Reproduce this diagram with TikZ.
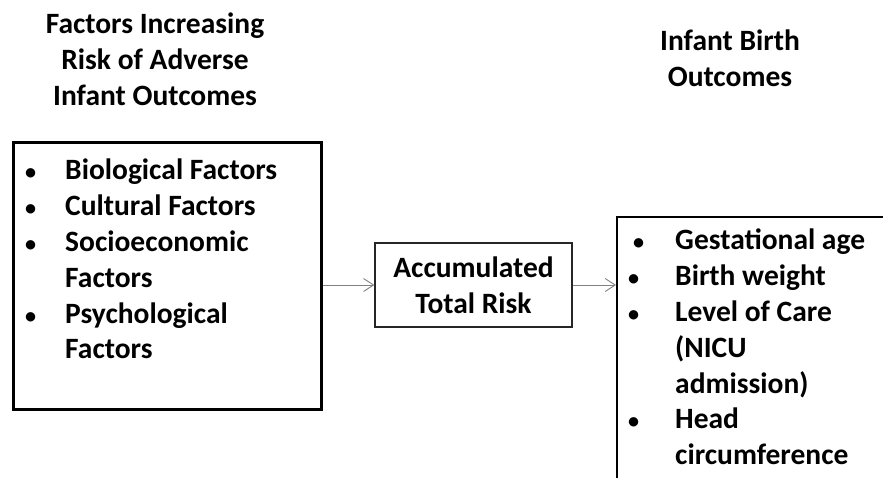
\documentclass[tikz,border=0pt]{standalone}
\usepackage{fontspec}
\setmainfont{Carlito}
\usetikzlibrary{arrows.meta}

\tikzset{
    heading/.style={align=center, inner sep=0pt},
    listtext/.style={align=left, inner sep=0pt, anchor=north west},
    factorbox/.style={draw, line width=3pt, rectangle, inner sep=0pt},
    riskbox/.style={draw=black!85, line width=1.3pt, rectangle, align=center, inner sep=0pt},
    outcomebox/.style={draw, line width=1.5pt, rectangle, inner sep=0pt, anchor=north west},
    flow/.style={-{Straight Barb[length=10pt,width=13pt]}, gray, line width=0.9pt},
}
\newcommand{\bul}[1]{\makebox[#1][l]{\hspace*{2pt}\scalebox{0.75}{\textbullet}}}

\begin{document}
\begin{tikzpicture}[x=1pt, y=-1pt, font=\fontsize{29.5}{35.8}\selectfont\bfseries]

    \useasboundingbox (0,0) rectangle (883,477);
    \clip (0,0) rectangle (883,477);

    % titles
    \node[heading] (lefttitle) at (155,59) {Factors Increasing\\Risk of Adverse\\Infant Outcomes};
    \node[heading] (righttitle) at (730,58) {Infant Birth\\Outcomes};

    % boxes
    \node[factorbox, minimum width=308pt, minimum height=267pt] (factors) at (167,275.5) {};
    \node[riskbox, minimum width=197pt, minimum height=84pt] (risk) at (473.5,285) {Accumulated\\Total Risk};
    \node[outcomebox, minimum width=320pt, minimum height=320pt] (outcomes) at (616,216) {};

    % bullet lists
    \node[listtext] (factorlist) at (23,159) {%
        \bul{42pt}Biological Factors\\
        \bul{42pt}Cultural Factors\\
        \bul{42pt}Socioeconomic\\
        \hspace*{42pt}Factors\\
        \bul{42pt}Psychological\\
        \hspace*{42pt}Factors};
    \node[listtext] (outcomelist) at (626,229) {%
        \hspace*{5pt}\bul{44pt}Gestational age\\
        \bul{49pt}Birth weight\\
        \bul{49pt}Level of Care\\
        \hspace*{49pt}(NICU\\
        \hspace*{49pt}admission)\\
        \bul{49pt}Head\\
        \hspace*{49pt}circumference};

    \draw[flow] (factors.east |- risk.west) -- (risk.west); % factors -> risk
    \draw[flow] (risk.east) -- (outcomes.west |- risk.east); % risk -> outcomes

\end{tikzpicture}
\end{document}
